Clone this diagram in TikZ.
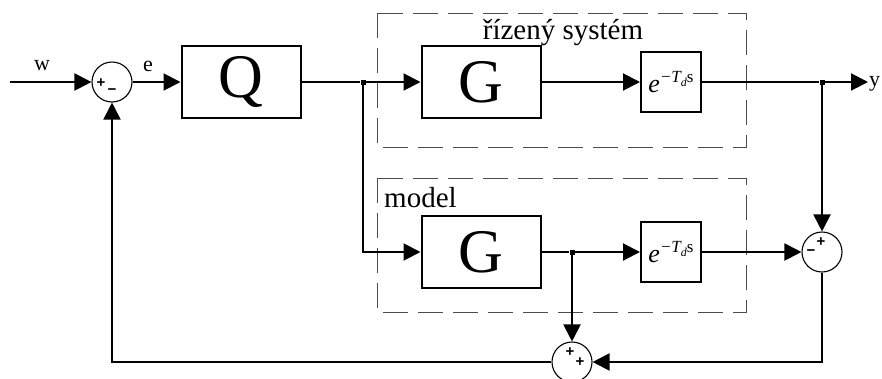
\documentclass[tikz,border=0pt]{standalone}
\usepackage{fontspec}
\setmainfont{Liberation Serif}
\setsansfont{Liberation Sans}
\usetikzlibrary{arrows.meta, positioning, calc}

\begin{document}
\begin{tikzpicture}[
    x=1pt, y=-1pt,
    box/.style={rectangle, draw, line width=2pt, minimum width=119pt, minimum height=72pt, inner sep=0pt, font=\fontsize{62}{62}\selectfont},
    delay/.style={rectangle, draw, line width=2pt, minimum width=60pt, minimum height=60pt, inner sep=0pt, font=\fontsize{26}{26}\selectfont},
    sum/.style={circle, draw, line width=1.1pt, minimum size=40pt, inner sep=0pt},
    sign/.style={font=\sffamily\bfseries\fontsize{15}{15}\selectfont, inner sep=0pt},
    group/.style={draw=black!70, line width=0.8pt, dash pattern=on 25pt off 10pt},
    arrow/.style={line width=2pt, -{Triangle[length=17pt,width=17pt]}},
    line/.style={line width=2pt},
    dot/.style={rectangle, fill, inner sep=0pt, minimum size=5pt},
    lbl/.style={font=\fontsize{22}{22}\selectfont, inner sep=0pt},
    title/.style={font=\fontsize{29}{29}\selectfont, inner sep=0pt}
  ]
    \useasboundingbox (0,0) rectangle (882,378);

    % dashed groups
    \draw[group] (377,13) rectangle (746,147);
    \draw[group] (377,178) rectangle (746,312);
    \node[title] (tsys) at (563,33) {řízený systém};
    \node[title, anchor=west] (tmod) at (384,198) {model};

    % blocks
    \node[sum] (s1) at (112,82) {};
    \node[box] (q) at (241,82) {Q};
    \node[box] (gs) at (481,82) {G};
    \node[delay] (ds) at (671,82) {\itshape e\raisebox{10pt}{\fontsize{17}{17}\selectfont −T\raisebox{-4pt}{\fontsize{12}{12}\selectfont d}\upshape s}};
    \node[box] (gm) at (481,252) {G};
    \node[delay] (dm) at (671,252) {\itshape e\raisebox{10pt}{\fontsize{17}{17}\selectfont −T\raisebox{-4pt}{\fontsize{12}{12}\selectfont d}\upshape s}};
    \node[sum] (s2) at (822,252) {};
    \node[sum] (s3) at (572,362) {};

    % signs
    \node[sign] at ($(s1)+(-11,1)$) {+};
    \node[sign] at ($(s1)+(0,10)$) {−};
    \node[sign] at ($(s2)+(-1,-10)$) {+};
    \node[sign] at ($(s2)+(-11,1)$) {−};
    \node[sign] at ($(s3)+(-2,-10)$) {+};
    \node[sign] at ($(s3)+(8,0)$) {+};

    % branch points
    \node[dot] (j1) at (363,82) {};
    \node[dot] (j2) at (822,82) {};
    \node[dot] (j3) at (572,252) {};
    \coordinate (in) at (10,82);
    \coordinate (out) at (868,82);

    % signal labels
    \node[lbl] (w) at (42,66) {w};
    \node[lbl] (e) at (148,66) {e};
    \node[lbl, anchor=west] (y) at (869,84) {y};

    % connections
    \draw[arrow] (in) -- (s1);
    \draw[arrow] (s1) -- (q);
    \draw[line] (q) -- (j1);
    \draw[arrow] (j1) -- (gs);
    \draw[arrow] (gs) -- (ds);
    \draw[line] (ds) -- (j2);
    \draw[arrow] (j2) -- (out);
    \draw[arrow] (j1) |- (gm);
    \draw[line] (gm) -- (j3);
    \draw[arrow] (j3) -- (dm);
    \draw[arrow] (dm) -- (s2);
    \draw[arrow] (j2) -- (s2);
    \draw[arrow] (j3) -- (s3);
    \draw[arrow] (s2) |- (s3);
    \draw[arrow] (s3) -| (s1);
\end{tikzpicture}
\end{document}
